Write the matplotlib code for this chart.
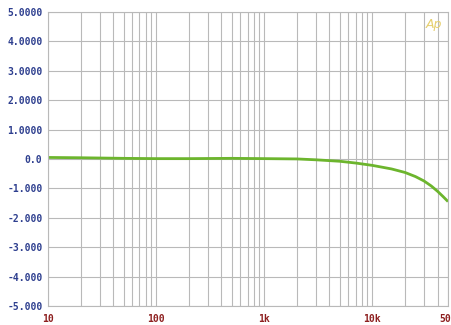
import matplotlib
matplotlib.use('Agg')
import matplotlib.pyplot as plt
from matplotlib.ticker import FixedLocator, LogLocator, NullFormatter

# Frequency response (Hz vs dB)
freq = [10, 20, 50, 100, 200, 500, 1000, 2000, 3000, 5000, 7000,
        10000, 15000, 20000, 25000, 30000, 35000, 40000, 45000, 50000]
level = [0.05, 0.04, 0.02, 0.01, 0.01, 0.02, 0.01, 0.0, -0.03, -0.08, -0.14,
         -0.22, -0.34, -0.46, -0.6, -0.75, -0.92, -1.1, -1.28, -1.45]

y_ticks = [5, 4, 3, 2, 1, 0, -1, -2, -3, -4, -5]
y_labels = ['5.0000', '4.0000', '3.0000', '2.0000', '1.0000', '0.0',
            '-1.000', '-2.000', '-3.000', '-4.000', '-5.000']
x_ticks = [10, 100, 1000, 10000, 50000]
x_labels = ['10', '100', '1k', '10k', '50k']

fig = plt.figure(figsize=(4.51, 3.25), dpi=100)
ax = fig.add_axes([0.1064, 0.0585, 0.887, 0.905])

ax.plot(freq, level, color='#6cb52d', linewidth=2.0, solid_capstyle='butt')

ax.set_xscale('log')
ax.set_xlim(10, 50000)
ax.set_ylim(-5, 5)

ax.xaxis.set_major_locator(FixedLocator(x_ticks))
ax.xaxis.set_minor_locator(LogLocator(base=10, subs=range(2, 10), numticks=20))
ax.xaxis.set_minor_formatter(NullFormatter())
ax.set_xticks(x_ticks)
ax.set_xticklabels(x_labels)
ax.set_yticks(y_ticks)
ax.set_yticklabels(y_labels)

ax.grid(True, which='both', color='#b9b9b9', linewidth=0.8)
ax.tick_params(which='both', length=0)
ax.tick_params(axis='y', pad=4, labelsize=7, labelcolor='#2e3f8f')
ax.tick_params(axis='x', pad=6, labelsize=7, labelcolor='#8e2020')
for lbl in ax.get_xticklabels() + ax.get_yticklabels():
    lbl.set_family('DejaVu Sans Mono')
    lbl.set_fontweight('bold')
for s in ax.spines.values():
    s.set_color('#b9b9b9')
    s.set_linewidth(0.8)

ax.text(0.985, 0.98, 'Ap', transform=ax.transAxes, ha='right', va='top',
        fontsize=9, style='italic', color='#e6cf6e')

fig.savefig('out.png', dpi=100)
